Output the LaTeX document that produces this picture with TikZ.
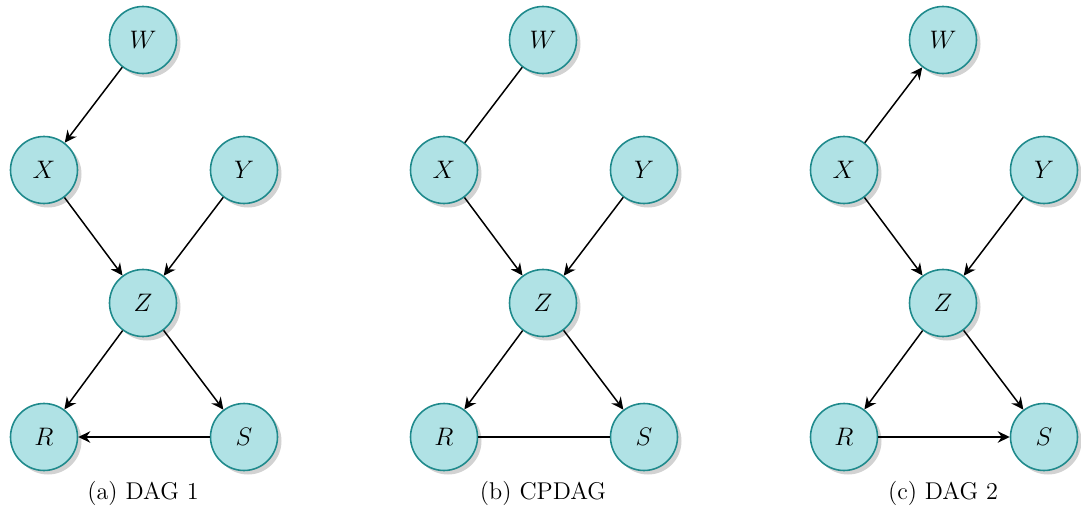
\documentclass[tikz,border=0pt]{standalone}
\usepackage{xcolor}
\usepackage{tikz}
\usetikzlibrary{shapes.geometric, arrows.meta, shadows}
\definecolor{nodefill}{HTML}{B0E2E5}
\definecolor{nodeline}{HTML}{1F8A8C}
\tikzstyle{var} = [circle, minimum size=1.34cm, inner sep=0pt, draw=nodeline, line width=0.9pt, fill=nodefill, drop shadow={shadow xshift=0.08cm, shadow yshift=-0.08cm, fill=black!35}]
\tikzstyle{arrow} = [line width=0.85pt,-{Stealth[length=2.4mm,width=2.3mm,inset=0.8mm]}]
\tikzstyle{line} = [line width=0.85pt]
\tikzstyle{caption} = [inner sep=0pt]

\begin{document}
\begin{tikzpicture}[font=\fontsize{13.8pt}{16pt}\selectfont]
	\useasboundingbox (0,0) rectangle (21.62,-10.48);
	
	% (a) DAG 1
	\node (aW) [var] at (2.86,-0.8) {$W$};
	\node (aX) [var] at (0.88,-3.4) {$X$};
	\node (aY) [var] at (4.88,-3.4) {$Y$};
	\node (aZ) [var] at (2.86,-6.06) {$Z$};
	\node (aR) [var] at (0.88,-8.74) {$R$};
	\node (aS) [var] at (4.88,-8.74) {$S$};
	
	\draw [arrow] (aW) -- (aX);
	\draw [arrow] (aX) -- (aZ);
	\draw [arrow] (aY) -- (aZ);
	\draw [arrow] (aZ) -- (aR);
	\draw [arrow] (aZ) -- (aS);
	\draw [arrow] (aS) -- (aR);
	
	\node (acap) [caption] at (2.86,-9.86) {(a) DAG 1};
	
	% (b) CPDAG
	\node (bW) [var] at (10.86,-0.8) {$W$};
	\node (bX) [var] at (8.88,-3.4) {$X$};
	\node (bY) [var] at (12.88,-3.4) {$Y$};
	\node (bZ) [var] at (10.86,-6.06) {$Z$};
	\node (bR) [var] at (8.88,-8.74) {$R$};
	\node (bS) [var] at (12.88,-8.74) {$S$};
	
	\draw [line] (bW) -- (bX);
	\draw [arrow] (bX) -- (bZ);
	\draw [arrow] (bY) -- (bZ);
	\draw [arrow] (bZ) -- (bR);
	\draw [arrow] (bZ) -- (bS);
	\draw [line] (bS) -- (bR);
	
	\node (bcap) [caption] at (10.86,-9.86) {(b) CPDAG};
	
	% (c) DAG 2
	\node (cW) [var] at (18.86,-0.8) {$W$};
	\node (cX) [var] at (16.88,-3.4) {$X$};
	\node (cY) [var] at (20.88,-3.4) {$Y$};
	\node (cZ) [var] at (18.86,-6.06) {$Z$};
	\node (cR) [var] at (16.88,-8.74) {$R$};
	\node (cS) [var] at (20.88,-8.74) {$S$};
	
	\draw [arrow] (cX) -- (cW);
	\draw [arrow] (cX) -- (cZ);
	\draw [arrow] (cY) -- (cZ);
	\draw [arrow] (cZ) -- (cR);
	\draw [arrow] (cZ) -- (cS);
	\draw [arrow] (cR) -- (cS);
	
	\node (ccap) [caption] at (18.86,-9.86) {(c) DAG 2};
	
\end{tikzpicture}
\end{document}
